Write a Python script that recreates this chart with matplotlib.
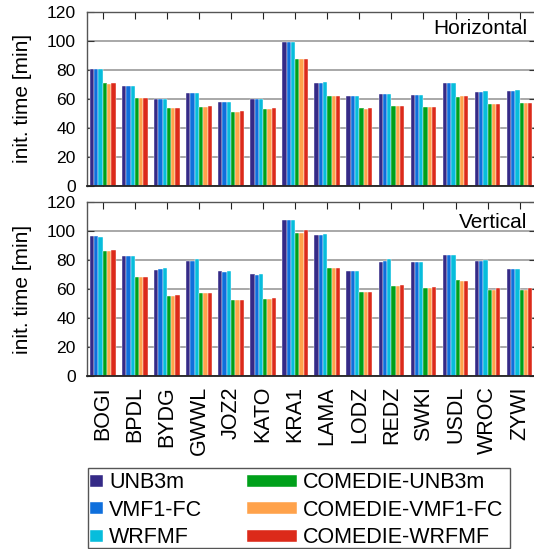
import numpy as np
import matplotlib.pyplot as plt
from matplotlib.patches import Rectangle

plt.rcParams['font.family'] = ['Liberation Sans', 'DejaVu Sans']

stations = ['BOGI', 'BPDL', 'BYDG', 'GWWL', 'JOZ2', 'KATO', 'KRA1',
            'LAMA', 'LODZ', 'REDZ', 'SWKI', 'USDL', 'WROC', 'ZYWI']
models = ['UNB3m', 'VMF1-FC', 'WRFMF',
          'COMEDIE-UNB3m', 'COMEDIE-VMF1-FC', 'COMEDIE-WRFMF']
colors = ['#352a87', '#0f6fdc', '#07bddc', '#00a01a', '#ffa24b', '#dc2a1a']

# initialization time [min], one list per model
hor_unb3m = [80.2, 68.7, 60.0, 63.9, 57.7, 59.8, 99.1, 70.8, 61.6, 63.2, 62.5, 70.8, 64.6, 65.3]
hor_vmf1 = [80.2, 68.7, 60.0, 63.9, 57.7, 59.8, 99.1, 70.8, 61.6, 63.2, 62.5, 70.8, 64.6, 65.3]
hor_wrfmf = [80.2, 68.7, 60.0, 63.9, 57.7, 59.8, 99.1, 71.7, 61.6, 63.2, 62.5, 70.8, 65.5, 66.2]
hor_c_unb3m = [70.8, 60.2, 53.6, 54.3, 50.8, 52.9, 87.4, 61.8, 53.6, 54.9, 54.3, 61.1, 56.3, 57.0]
hor_c_vmf1 = [70.1, 60.2, 53.6, 54.3, 50.8, 52.9, 87.4, 61.8, 52.9, 54.9, 54.3, 61.8, 56.3, 57.0]
hor_c_wrfmf = [70.8, 60.2, 53.6, 54.9, 51.5, 53.6, 87.4, 61.8, 53.6, 54.9, 54.3, 61.8, 56.3, 57.0]

ver_unb3m = [96.3, 82.6, 73.0, 79.2, 72.3, 70.3, 107.3, 97.0, 72.3, 78.5, 78.5, 83.3, 79.2, 73.7]
ver_vmf1 = [96.3, 82.6, 73.7, 79.2, 71.6, 69.6, 107.3, 97.0, 72.3, 79.2, 78.5, 83.3, 79.2, 73.7]
ver_wrfmf = [95.7, 82.6, 74.4, 80.5, 72.3, 70.3, 107.3, 97.7, 72.3, 80.5, 78.5, 83.3, 79.9, 73.7]
ver_c_unb3m = [86.0, 68.2, 55.1, 57.2, 52.4, 53.1, 98.4, 74.4, 57.9, 62.0, 60.6, 66.1, 59.3, 59.3]
ver_c_vmf1 = [86.0, 68.2, 55.1, 57.2, 52.4, 53.1, 98.4, 74.4, 57.9, 62.0, 60.6, 65.4, 59.3, 59.3]
ver_c_wrfmf = [86.7, 68.2, 55.8, 57.2, 52.4, 53.8, 100.5, 74.4, 57.9, 62.7, 61.3, 65.4, 60.6, 60.6]

horizontal = [hor_unb3m, hor_vmf1, hor_wrfmf, hor_c_unb3m, hor_c_vmf1, hor_c_wrfmf]
vertical = [ver_unb3m, ver_vmf1, ver_wrfmf, ver_c_unb3m, ver_c_vmf1, ver_c_wrfmf]

W, H = 534, 549
fig = plt.figure(figsize=(W / 100, H / 100), dpi=100)

left = 86.7 / W
width = 449 / W
ax_top = fig.add_axes([left, (H - 185.7) / H, width, 174.2 / H])
ax_bot = fig.add_axes([left, (H - 376.3) / H, width, 174.6 / H])

x = np.arange(len(stations))
bw = 0.8 / len(models)
bars = []
for ax, data, title, ty in [(ax_top, horizontal, 'Horizontal', 0.872),
                            (ax_bot, vertical, 'Vertical', 0.850)]:
    for yv in range(0, 121, 20):
        ax.axhline(yv, color='#9a9a9a', lw=1.2, zorder=0)
    bars = []
    for k, vals in enumerate(data):
        b = ax.bar(x + (k - 2.5) * bw, vals, bw, color=colors[k],
                   edgecolor='white', linewidth=0.3, label=models[k], zorder=2)
        bars.append(b)
    ax.set_xlim(-0.5, 13.5)
    ax.set_ylim(0, 120)
    ax.set_yticks(range(0, 121, 20))
    ax.set_xticks(x)
    ax.tick_params(axis='y', direction='in', length=5, width=0.8, labelsize=12.6,
                   pad=8, right=True, colors='#333333', labelcolor='black')
    ax.tick_params(axis='x', direction='in', length=5, width=0.8, top=True,
                   colors='#222222', labelcolor='black')
    for s in ax.spines.values():
        s.set_color('#555555')
        s.set_linewidth(1.0)
    ax.spines['bottom'].set_color('#222222')
    ax.spines['bottom'].set_linewidth(1.3)
    ax.set_ylabel('init. time [min]', fontsize=15)
    ax.yaxis.set_label_coords(-0.1225, 0.5)
    ax.text(0.982, ty, title, transform=ax.transAxes, ha='right',
            va='baseline', fontsize=15)

ax_top.set_xticklabels([])
ax_bot.set_xticklabels(stations, rotation=90, fontsize=15.5)
ax_bot.tick_params(axis='x', pad=7)

# legend: two columns with a shared frame
fig.patches.append(Rectangle((88 / W, (H - 548) / H), 422 / W, 80 / H,
                             transform=fig.transFigure, fill=False,
                             edgecolor='#555555', linewidth=1.0))
leg_kw = dict(frameon=False, fontsize=15.5, borderpad=0, borderaxespad=0,
              labelspacing=0.3, handletextpad=0.3, handleheight=0.5,
              loc='upper left')
leg1 = fig.legend(bars[:3], models[:3], handlelength=0.6,
                  bbox_to_anchor=(90 / W, (H - 472.5) / H), **leg_kw)
leg2 = fig.legend(bars[3:], models[3:], handlelength=2.3,
                  bbox_to_anchor=(247 / W, (H - 472.5) / H), **leg_kw)

fig.savefig('out.png', dpi=100)
